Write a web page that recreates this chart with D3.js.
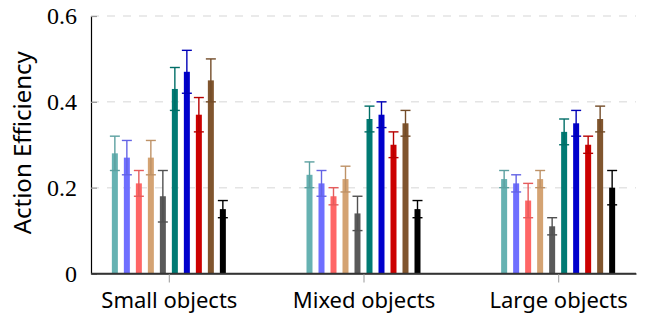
<!DOCTYPE html>
<html>
<head>
<meta charset="utf-8">
<script src="https://cdn.jsdelivr.net/npm/d3@7"></script>
<style>
  body { margin: 0; background: #fff; }
</style>
</head>
<body>
<svg id="chart" width="652" height="322"></svg>
<script>
// groups along the x axis
var categories = ["Small objects", "Mixed objects", "Large objects"];
// ten methods, one bar each per group (no legend in the figure)
var series = ["m1", "m2", "m3", "m4", "m5", "m6", "m7", "m8", "m9", "m10"];
var colors = ["#66b2b2", "#6f6fff", "#ff6666", "#d4a373", "#5a5a5a",
              "#007a73", "#0000cc", "#cc0000", "#80552e", "#000000"];

// mean action efficiency, per group
var meanSmall = [0.28, 0.27, 0.21, 0.27, 0.18, 0.43, 0.47, 0.37, 0.45, 0.15];
var meanMixed = [0.23, 0.21, 0.18, 0.22, 0.14, 0.36, 0.37, 0.30, 0.35, 0.15];
var meanLarge = [0.22, 0.21, 0.17, 0.22, 0.11, 0.33, 0.35, 0.30, 0.36, 0.20];

// error bar half widths, per group
var errSmall = [0.04, 0.04, 0.03, 0.04, 0.06, 0.05, 0.05, 0.04, 0.05, 0.02];
var errMixed = [0.03, 0.03, 0.02, 0.03, 0.04, 0.03, 0.03, 0.03, 0.03, 0.02];
var errLarge = [0.02, 0.02, 0.04, 0.02, 0.02, 0.03, 0.03, 0.02, 0.03, 0.04];

var yTicks = [0, 0.2, 0.4, 0.6];
var yLabel = "Action Efficiency";

var means = [meanSmall, meanMixed, meanLarge];
var errs = [errSmall, errMixed, errLarge];

var data = [];
categories.forEach(function(c, i) {
  series.forEach(function(s, j) {
    data.push({ cat: c, key: s, color: colors[j], value: means[i][j], err: errs[i][j] });
  });
});

var svg = d3.select("#chart");
var margin = { left: 91, right: 16, top: 16, bottom: 48.5 };
var W = 652, H = 322;

var x = d3.scalePoint()
  .domain(categories)
  .range([margin.left, W - margin.right])
  .padding(0.4);

var xs = d3.scaleBand()
  .domain(series)
  .range([-60, 60])
  .paddingInner(0.5)
  .paddingOuter(0.25);

var y = d3.scaleLinear()
  .domain([0, 0.6])
  .range([H - margin.bottom, margin.top]);

// dashed horizontal grid
svg.append("g")
  .selectAll("line")
  .data(yTicks.filter(function(d) { return d > 0; }))
  .enter().append("line")
  .attr("x1", margin.left).attr("x2", W - margin.right)
  .attr("y1", function(d) { return y(d); })
  .attr("y2", function(d) { return y(d); })
  .attr("stroke", "#e4e4e4")
  .attr("stroke-width", 1.5)
  .attr("stroke-dasharray", "8,8");

// y axis
var yAxis = d3.axisLeft(y)
  .tickValues(yTicks)
  .tickFormat(function(d) { return d === 0 ? "0" : d3.format(".1f")(d); })
  .tickSize(-6)
  .tickPadding(14);

var gy = svg.append("g")
  .attr("transform", "translate(" + margin.left + ",0)")
  .call(yAxis);
gy.select(".domain").attr("stroke", "#000").attr("stroke-width", 1.2);
gy.selectAll(".tick line").attr("stroke", "#999").attr("stroke-width", 1.2);
gy.selectAll(".tick text")
  .style("font-family", "'Liberation Serif', 'DejaVu Serif', serif")
  .style("font-size", "24px")
  .attr("fill", "#000");

// x axis
var xAxis = d3.axisBottom(x)
  .tickSize(9)
  .tickPadding(10)
  .tickSizeOuter(0);

var gx = svg.append("g")
  .attr("transform", "translate(0," + y(0) + ")")
  .call(xAxis);
gx.select(".domain").attr("stroke", "#333").attr("stroke-width", 1.5);
gx.selectAll(".tick line").attr("stroke", "#aaa").attr("stroke-width", 1.2);
gx.selectAll(".tick text")
  .style("font-family", "'Noto Sans', sans-serif")
  .style("font-size", "22px")
  .attr("fill", "#000");

// bars
var bars = svg.append("g");
bars.selectAll("rect")
  .data(data)
  .enter().append("rect")
  .attr("x", function(d) { return x(d.cat) + xs(d.key); })
  .attr("y", function(d) { return y(d.value); })
  .attr("width", xs.bandwidth())
  .attr("height", function(d) { return y(0) - y(d.value); })
  .attr("fill", function(d) { return d.color; });

// error bars: whisker, top cap, bottom cap
var eb = svg.append("g").selectAll("g")
  .data(data)
  .enter().append("g")
  .attr("stroke", function(d) { return d3.color(d.color).darker(0.3); })
  .attr("stroke-width", 1.4);

var cx = function(d) { return x(d.cat) + xs(d.key) + xs.bandwidth() / 2; };

eb.append("line")
  .attr("x1", cx).attr("x2", cx)
  .attr("y1", function(d) { return y(d.value + d.err); })
  .attr("y2", function(d) { return y(d.value - d.err); });
eb.append("line")
  .attr("x1", function(d) { return cx(d) - 5; })
  .attr("x2", function(d) { return cx(d) + 5; })
  .attr("y1", function(d) { return y(d.value + d.err); })
  .attr("y2", function(d) { return y(d.value + d.err); });
eb.append("line")
  .attr("x1", function(d) { return cx(d) - 5; })
  .attr("x2", function(d) { return cx(d) + 5; })
  .attr("y1", function(d) { return y(d.value - d.err); })
  .attr("y2", function(d) { return y(d.value - d.err); });

// redraw the baseline over the bar feet
svg.append("line")
  .attr("x1", margin.left).attr("x2", W - margin.right)
  .attr("y1", y(0)).attr("y2", y(0))
  .attr("stroke", "#333").attr("stroke-width", 1.5);

// y axis title
svg.append("text")
  .attr("transform", "translate(31," + ((y(0) + y(0.6)) / 2 - 2) + ") rotate(-90)")
  .attr("text-anchor", "middle")
  .style("font-family", "'Noto Sans', sans-serif")
  .style("font-size", "24px")
  .text(yLabel);
</script>
</body>
</html>
